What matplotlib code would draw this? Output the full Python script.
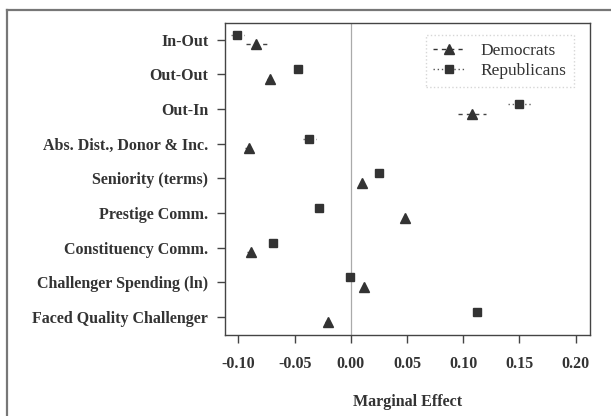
"""Marginal effects by party, dot plot with small error bars."""
import matplotlib
matplotlib.use("Agg")
import matplotlib.pyplot as plt
import numpy as np
from matplotlib.lines import Line2D

LABELS = ["In-Out", "Out-Out", "Out-In", "Abs. Dist., Donor & Inc.",
          "Seniority (terms)", "Prestige Comm.", "Constituency Comm.",
          "Challenger Spending (ln)", "Faced Quality Challenger"]
DEM = [-0.084, -0.072, 0.108, -0.091, 0.010, 0.048, -0.089, 0.012, -0.020]
DEM_ERR = [0.0095, 0.003, 0.0125, 0.003, 0.001, 0.002, 0.003, 0.001, 0.003]
REP = [-0.101, -0.047, 0.150, -0.037, 0.025, -0.028, -0.069, -0.001, 0.112]
REP_ERR = [0.006, 0.003, 0.010, 0.006, 0.001, 0.003, 0.003, 0.001, 0.001]
XTICKS = [-0.10, -0.05, 0.00, 0.05, 0.10, 0.15, 0.20]

plt.rcParams.update({"font.family": "Liberation Serif"})
INK = "#333333"

fig = plt.figure(figsize=(6.11, 4.16), dpi=100)
ax = fig.add_axes([225 / 611, 1 - 335 / 416, 365 / 611, 312 / 416])

# outer frame of the scanned figure (top and left edges only)
fig.add_artist(Line2D([6.5 / 611, 6.5 / 611], [0, 1 - 9.5 / 416],
                      transform=fig.transFigure, color="#777777", lw=1.6))
fig.add_artist(Line2D([6.5 / 611, 1], [1 - 9.5 / 416, 1 - 9.5 / 416],
                      transform=fig.transFigure, color="#777777", lw=1.6))

y = np.arange(1, len(LABELS) + 1)
off = 0.14
ax.axvline(0, color="#aaaaaa", lw=0.9, zorder=0)
d = ax.errorbar(DEM, y + off, xerr=DEM_ERR, fmt="^", color=INK, ms=7,
                ecolor="#444444", elinewidth=1, capsize=0, ls="none")
d[2][0].set_linestyle((0, (3, 3)))
r = ax.errorbar(REP, y - off, xerr=REP_ERR, fmt="s", color=INK, ms=6,
                ecolor="#666666", elinewidth=1, capsize=0, ls="none")
r[2][0].set_linestyle((0, (1, 2)))

ax.set_xlim(-0.112, 0.2128)
ax.set_ylim(9.52, 0.52)
ax.set_yticks(y)
ax.set_yticklabels(LABELS, fontweight="bold", fontsize=11.5, color=INK)
ax.set_xticks(XTICKS)
ax.set_xticklabels([f"{v:.2f}" for v in XTICKS], fontweight="bold",
                   fontsize=11.5, color=INK)
ax.tick_params(length=6, width=1, color="#444444", pad=6)
ax.tick_params(axis="x", pad=9)
for sp in ax.spines.values():
    sp.set_color("#444444")
    sp.set_linewidth(1)
ax.set_xlabel("Marginal Effect", fontweight="bold", fontsize=11.5,
              color=INK, labelpad=16)

# legend with dashed / dotted line samples
h = [Line2D([], [], color=INK, marker="^", ms=7, ls=(0, (3, 3)), lw=1),
     Line2D([], [], color="#555555", marker="s", ms=6, mfc=INK,
            mec=INK, ls=(0, (1, 2)), lw=1)]
leg = ax.legend(h, ["Democrats", "Republicans"], loc="upper right",
                fontsize=12.5, frameon=True, fancybox=False, handlelength=1.8,
                handletextpad=0.9, bbox_to_anchor=(0.98, 0.99),
                borderpad=0.45, labelspacing=0.25)
leg.get_frame().set_edgecolor("#cccccc")
leg.get_frame().set_linestyle(":")
for t in leg.get_texts():
    t.set_color(INK)

fig.savefig("out.png", dpi=100)
